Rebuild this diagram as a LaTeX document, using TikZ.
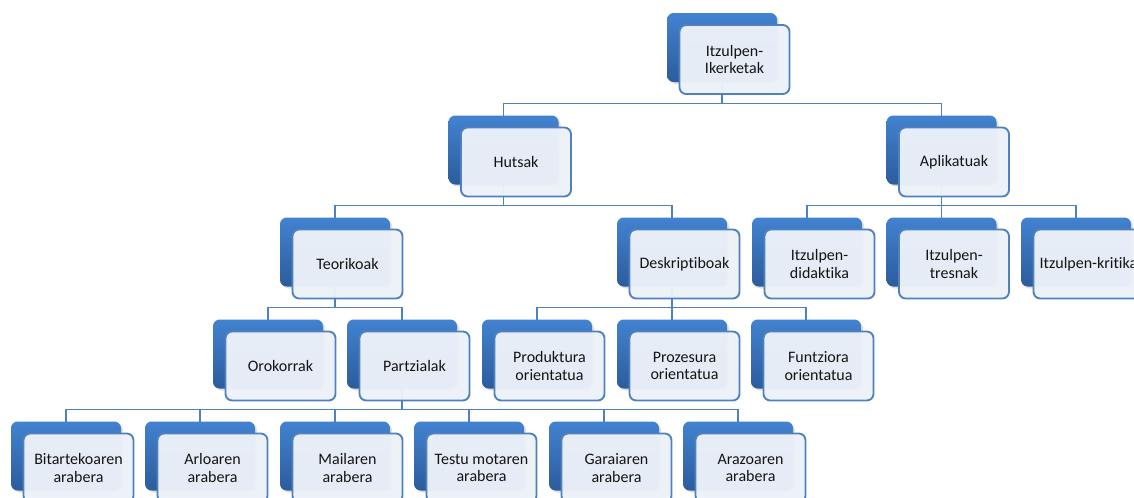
\documentclass[tikz,border=0pt]{standalone}
\usepackage{fontspec}
\setmainfont{Carlito}[Ligatures={NoCommon}]
\usetikzlibrary{calc,shadows}
\definecolor{accent}{RGB}{79,129,189}
\definecolor{backtop}{RGB}{66,130,208}
\definecolor{backbot}{RGB}{44,92,156}
\definecolor{frontfill}{RGB}{236,241,248}
\definecolor{txt}{RGB}{20,20,20}
\tikzset{
  backbox/.style={rectangle, rounded corners=5pt, minimum width=82.5pt, minimum height=51.75pt,
    inner sep=0pt, top color=backtop, bottom color=backbot, draw=none,
    drop shadow={opacity=0.25, shadow xshift=1.5pt, shadow yshift=-1.5pt}},
  frontbox/.style={rectangle, rounded corners=5pt, minimum width=82.5pt, minimum height=51.75pt,
    inner sep=1pt, draw=accent, line width=1.4pt, fill=frontfill, fill opacity=0.97, text opacity=1,
    align=center, font=\fontsize{12}{13}\selectfont, text=txt},
  conn/.style={draw=accent, line width=1.3pt}
}
\newcommand{\fnode}[2]{%
  \node[frontbox] (#1) at ($(b-#1)+(12.5,12)$) {#2};
}
\begin{document}
\begin{tikzpicture}[x=0.75pt,y=-0.75pt]
\useasboundingbox (0,0) rectangle (1134,497);
\clip (0,0) rectangle (1134,497);
\path
  coordinate (p-top) at (722,47.5)
  coordinate (p-hut) at (503.5,150) coordinate (p-apl) at (941.5,150)
  coordinate (p-teo) at (335,252) coordinate (p-des) at (672,252)
  coordinate (p-did) at (807,252) coordinate (p-tre) at (941.5,252) coordinate (p-kri) at (1076,252)
  coordinate (p-oro) at (268,354) coordinate (p-par) at (402,354)
  coordinate (p-pro) at (537,354) coordinate (p-prz) at (672,354) coordinate (p-fun) at (806,354)
  coordinate (p-bit) at (66,456) coordinate (p-arl) at (200,456) coordinate (p-mai) at (335,456)
  coordinate (p-tes) at (469,456) coordinate (p-gar) at (604,456) coordinate (p-arz) at (738,456);
% connectors
\foreach \p/\c in {top/hut,top/apl,hut/teo,hut/des,apl/did,apl/tre,apl/kri,
                   teo/oro,teo/par,des/pro,des/prz,des/fun,
                   par/bit,par/arl,par/mai,par/tes,par/gar,par/arz}{
  \draw[conn] (p-\p) |- ($(p-\c)+(0,-46.5)$) -- ($(p-\c)+(0,-34.5)$);
}
% back boxes
\foreach \n in {top,hut,apl,teo,des,did,tre,kri,oro,par,pro,prz,fun,bit,arl,mai,tes,gar,arz}{
  \node[backbox] (b-\n) at (p-\n) {};
}
% front boxes
\fnode{top}{Itzulpen-\\Ikerketak}
\fnode{hut}{Hutsak}
\fnode{apl}{Aplikatuak}
\fnode{teo}{Teorikoak}
\fnode{des}{Deskriptiboak}
\fnode{did}{Itzulpen-\\didaktika}
\fnode{tre}{Itzulpen-\\tresnak}
\fnode{kri}{Itzulpen-kritika}
\fnode{oro}{Orokorrak}
\fnode{par}{Partzialak}
\fnode{pro}{Produktura\\orientatua}
\fnode{prz}{Prozesura\\orientatua}
\fnode{fun}{Funtziora\\orientatua}
\fnode{bit}{Bitartekoaren\\arabera}
\fnode{arl}{Arloaren\\arabera}
\fnode{mai}{Mailaren\\arabera}
\fnode{tes}{Testu motaren\\arabera}
\fnode{gar}{Garaiaren\\arabera}
\fnode{arz}{Arazoaren\\arabera}
\end{tikzpicture}
\end{document}
